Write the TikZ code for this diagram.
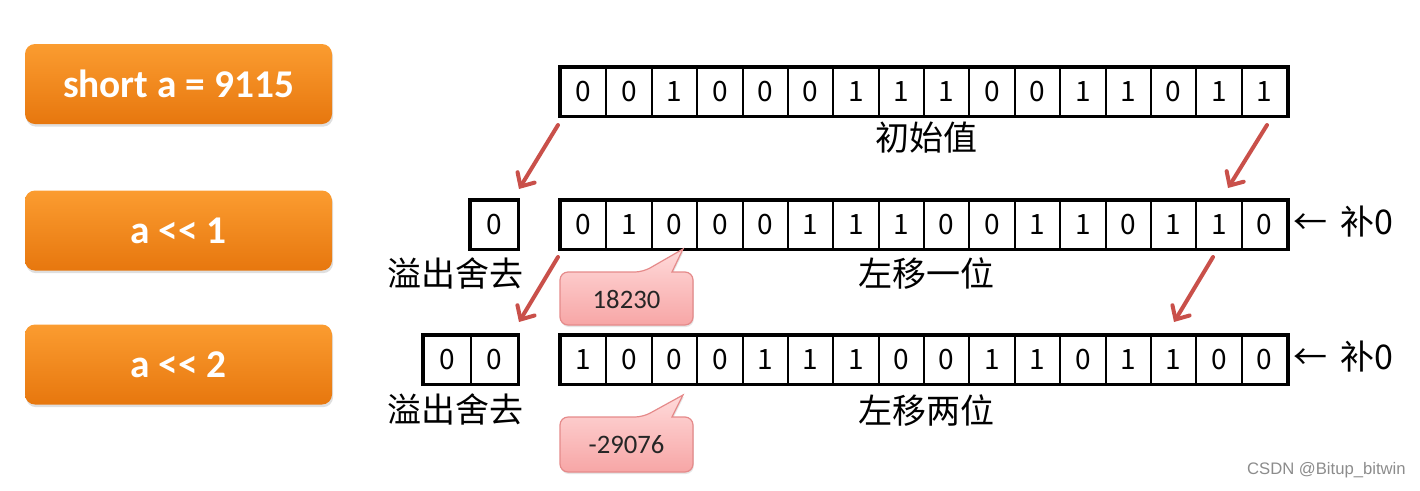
\documentclass[tikz,border=0pt]{standalone}
\usepackage{fontspec}
\setmainfont{Carlito}
\newfontfamily\cjk{Noto Sans CJK SC}
\newfontfamily\wm{Liberation Sans}
\usetikzlibrary{arrows.meta,shadows,calc}
\definecolor{orA}{HTML}{FB9C30}
\definecolor{orB}{HTML}{E7770E}
\definecolor{arr}{HTML}{C9504A}
\definecolor{pkA}{HTML}{FFDADA}
\definecolor{pkB}{HTML}{F7A6A6}
\definecolor{pkE}{HTML}{E58A8A}
\begin{document}
\begin{tikzpicture}[x=0.75pt,y=-0.75pt,
  opbox/.style={rounded corners=7.5pt, top color=orA, bottom color=orB,
    drop shadow={shadow xshift=0.8pt,shadow yshift=-2pt,opacity=0.25},
    minimum width=230.25pt, minimum height=60pt, inner sep=0pt,
    text=white, font=\fontsize{29.5}{30}\selectfont\bfseries},
  cell/.style={draw, line width=1.5pt, minimum width=34.03pt, minimum height=36pt,
    inner sep=0pt, font=\cjk\fontsize{21}{21}\selectfont},
  ocell/.style={cell, minimum width=35.25pt},
  frame/.style={line width=2.6pt},
  lbl/.style={font=\cjk\fontsize{25.5}{26}\selectfont, inner sep=0pt},
  redarrow/.style={draw=arr, line width=3pt, line cap=round,
    -{Straight Barb[length=8pt,width=15pt,line cap=round]}},
  callout/.style={draw=pkE, line width=0.9pt, top color=pkA, bottom color=pkB,
    drop shadow={shadow xshift=0.6pt,shadow yshift=-1.5pt,opacity=0.2}},
  num/.style={font=\fontsize{20}{20}\selectfont, text=black!85, inner sep=0pt},
  fill0/.style={font=\cjk\fontsize{25.5}{26}\selectfont, inner sep=0pt, anchor=west}
]
\useasboundingbox (0,0) rectangle (1420,490);

% operation boxes
\node[opbox] (op1) at (178.5,84) {short a = 9115};
\node[opbox] (op2) at (178.5,230.5) {a {<}{<} 1};
\node[opbox] (op3) at (178.5,364.5) {a {<}{<} 2};

% row 1
\foreach \b [count=\i] in {0,0,1,0,0,0,1,1,1,0,0,1,1,0,1,1}
  \node[cell] (r1c\i) at ({561+45.375*(\i-0.5)},91.5) {\b};
\draw[frame] (r1c1.north west) rectangle (r1c16.south east);

% row 2
\foreach \b [count=\i] in {0,1,0,0,0,1,1,1,0,0,1,1,0,1,1,0}
  \node[cell] (r2c\i) at ({561+45.375*(\i-0.5)},224.5) {\b};
\draw[frame] (r2c1.north west) rectangle (r2c16.south east);
\node[ocell] (o2a) at (494,224.5) {0};
\draw[frame] (o2a.north west) rectangle (o2a.south east);

% row 3
\foreach \b [count=\i] in {1,0,0,0,1,1,1,0,0,1,1,0,1,1,0,0}
  \node[cell] (r3c\i) at ({561+45.375*(\i-0.5)},359.5) {\b};
\draw[frame] (r3c1.north west) rectangle (r3c16.south east);
\node[ocell] (o3a) at (447,359.5) {0};
\node[ocell] (o3b) at (494,359.5) {0};
\draw[frame] (o3a.north west) rectangle (o3b.south east);

% labels
\node[lbl] (l1) at (926,138) {初始值};
\node[lbl] (l2) at (926,274) {左移一位};
\node[lbl] (l3) at (926,411) {左移两位};
\node[lbl] (d2) at (455,273) {溢出舍去};
\node[lbl] (d3) at (455,409) {溢出舍去};
\node[fill0] (f2) at (1293,222) {←\hspace{10pt}补0};
\node[fill0] (f3) at (1293,357) {←\hspace{10pt}补0};

% red arrows
\coordinate (a1s) at (558,125); \coordinate (a1e) at (519,189);
\coordinate (a2s) at (1267,125); \coordinate (a2e) at (1228,188);
\coordinate (a3s) at (558,257); \coordinate (a3e) at (519,322);
\coordinate (a4s) at (1213,257); \coordinate (a4e) at (1174,322);
\draw[redarrow] (a1s) -- (a1e);
\draw[redarrow] (a2s) -- (a2e);
\draw[redarrow] (a3s) -- (a3e);
\draw[redarrow] (a4s) -- (a4e);

% callouts
\path[callout] (560,298) [rounded corners=6pt] -- (560,272) -- (643,272) [sharp corners] -- (683,249) -- (672,272) [rounded corners=6pt] -- (693,272) -- (693,325) -- (560,325) -- cycle;
\node[num] (v1) at (626.5,299) {18230};
\path[callout] (560,444) [rounded corners=6pt] -- (560,417) -- (643,417) [sharp corners] -- (683,395) -- (672,417) [rounded corners=6pt] -- (693,417) -- (693,472) -- (560,472) -- cycle;
\node[num] (v2) at (626.5,445) {-29076};

% watermark
\node[anchor=east, font=\wm\fontsize{12.5}{13}\selectfont, text=black!45, inner sep=0pt] (wm) at (1406,470) {CSDN @Bitup\_bitwin};
\end{tikzpicture}
\end{document}
